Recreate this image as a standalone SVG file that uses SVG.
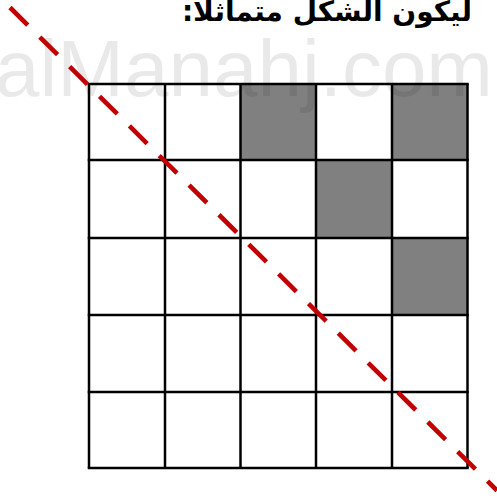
<svg xmlns="http://www.w3.org/2000/svg" width="497" height="503" viewBox="0 0 497 503">
<style>
.wm{font-family:"Liberation Sans",Arial,sans-serif;font-size:80px;fill:#000;fill-opacity:0.085}
.title{font-family:"DejaVu Sans",sans-serif;font-weight:bold;font-size:28px;fill:#000}
.cell{fill:#808080;stroke:none}
.grid line{stroke:#000;stroke-width:2.5}
.axis{stroke:#c00000;stroke-width:4.6;stroke-dasharray:25 17.04;fill:none}
</style>
<rect width="497" height="503" fill="#fff"/>
<text class="title" x="472" y="21" direction="rtl" text-anchor="start">ليكون الشكل متماثلا:</text>
<g id="cells">
<rect class="cell" x="240.5" y="84" width="75.5" height="76"/>
<rect class="cell" x="392" y="84" width="75.5" height="76"/>
<rect class="cell" x="316" y="160" width="76" height="78"/>
<rect class="cell" x="392" y="238" width="75.5" height="77"/>
</g>
<text class="wm" x="-5" y="96">alManahj.com</text>
<g id="grid" class="grid">
<line x1="89" y1="84" x2="89" y2="468"/>
<line x1="165" y1="84" x2="165" y2="468"/>
<line x1="240.5" y1="84" x2="240.5" y2="468"/>
<line x1="316" y1="84" x2="316" y2="468"/>
<line x1="392" y1="84" x2="392" y2="468"/>
<line x1="467.5" y1="84" x2="467.5" y2="468"/>
<line x1="87.75" y1="84" x2="468.75" y2="84"/>
<line x1="87.75" y1="160" x2="468.75" y2="160"/>
<line x1="87.75" y1="238" x2="468.75" y2="238"/>
<line x1="87.75" y1="315" x2="468.75" y2="315"/>
<line x1="87.75" y1="392" x2="468.75" y2="392"/>
<line x1="87.75" y1="468" x2="468.75" y2="468"/>
</g>
<g id="connectors">
<line class="axis" x1="10" y1="7.5" x2="497" y2="490.6"/>
</g>
</svg>
